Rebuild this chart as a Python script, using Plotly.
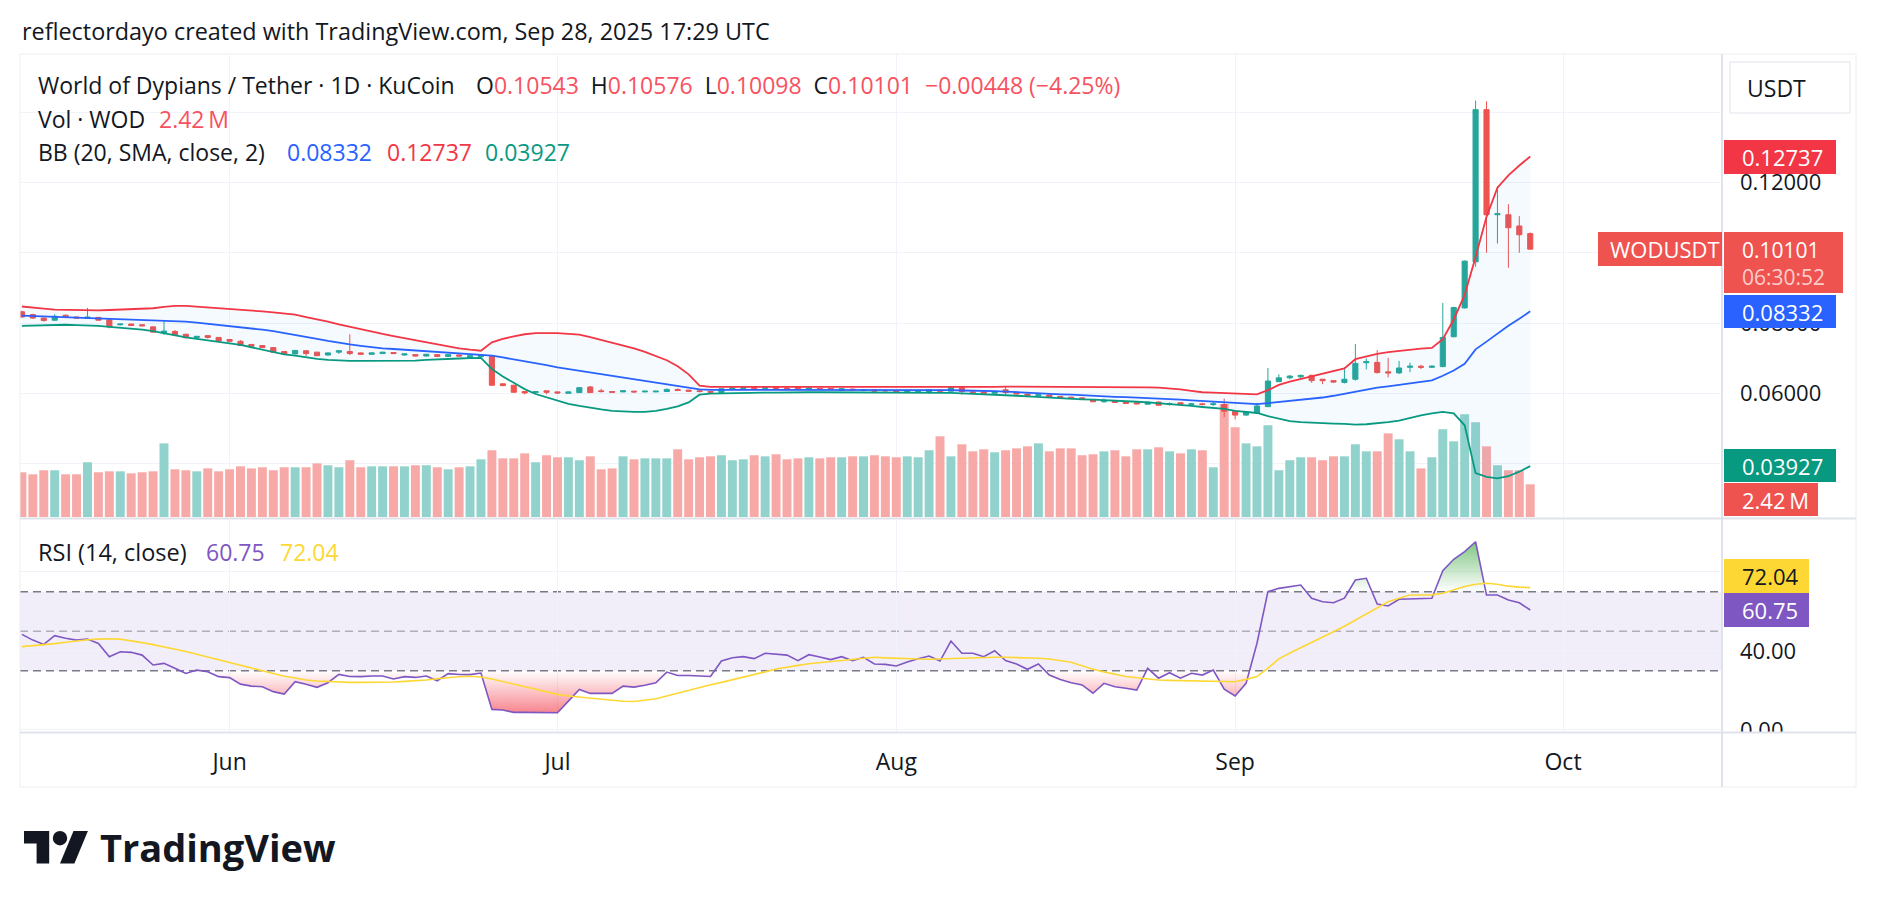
import plotly.graph_objects as go
import pandas as pd

# ---------------------------------------------------------------- data
start_date = "2025-05-13"          # first daily candle
month_ticks = ["2025-06-01", "2025-07-01", "2025-08-01", "2025-09-01", "2025-10-01"]
month_labels = ["Jun", "Jul", "Aug", "Sep", "Oct"]

opens = [
    0.0832, 0.0824, 0.0814, 0.0808, 0.0822, 0.0817, 0.0813, 0.0816, 0.0809, 0.0795,
    0.0797, 0.0795, 0.0789, 0.0772, 0.0776, 0.0768, 0.0759, 0.0764, 0.0759, 0.0753,
    0.0748, 0.0739, 0.0736, 0.0730, 0.0719, 0.0712, 0.0721, 0.0717, 0.0709, 0.0717,
    0.0719, 0.0715, 0.0711, 0.0713, 0.0716, 0.0709, 0.0710, 0.0706, 0.0710, 0.0705,
    0.0709, 0.0702, 0.0704, 0.0705, 0.0627, 0.0623, 0.0605, 0.0602, 0.0607, 0.0604,
    0.0600, 0.0602, 0.0618, 0.0607, 0.0605, 0.0604, 0.0606, 0.0604, 0.0604, 0.0605,
    0.0611, 0.0609, 0.0607, 0.0605, 0.0602, 0.0612, 0.0614, 0.0616, 0.0614, 0.0616,
    0.0615, 0.0617, 0.0612, 0.0614, 0.0614, 0.0609, 0.0612, 0.0608, 0.0610, 0.0608,
    0.0607, 0.0605, 0.0605, 0.0604, 0.0609, 0.0606, 0.0616, 0.0604, 0.0604, 0.0600,
    0.0610, 0.0603, 0.0598, 0.0593, 0.0595, 0.0591, 0.0589, 0.0587, 0.0581, 0.0576,
    0.0578, 0.0576, 0.0573, 0.0569, 0.0575, 0.0568, 0.0573, 0.0568, 0.0570, 0.0568,
    0.0568, 0.0549, 0.0538, 0.0544, 0.0562, 0.0633, 0.0644, 0.0647, 0.0651, 0.0640,
    0.0636, 0.0631, 0.0640, 0.0687, 0.0688, 0.0661, 0.0658, 0.0674, 0.0677, 0.0674,
    0.0676, 0.0761, 0.0843, 0.0974, 0.1407, 0.1108, 0.1108, 0.1076, 0.10543]

highs = [
    0.0835, 0.0826, 0.0815, 0.0825, 0.0825, 0.0818, 0.0843, 0.0817, 0.0810, 0.0798,
    0.0798, 0.0796, 0.0790, 0.0805, 0.0780, 0.0769, 0.0763, 0.0766, 0.0760, 0.0754,
    0.0751, 0.0740, 0.0737, 0.0731, 0.0720, 0.0723, 0.0722, 0.0718, 0.0716, 0.0722,
    0.0768, 0.0716, 0.0716, 0.0718, 0.0717, 0.0713, 0.0711, 0.0712, 0.0711, 0.0711,
    0.0710, 0.0708, 0.0710, 0.0706, 0.0628, 0.0624, 0.0606, 0.0606, 0.0608, 0.0605,
    0.0605, 0.0617, 0.0621, 0.0613, 0.0606, 0.0608, 0.0607, 0.0607, 0.0607, 0.0614,
    0.0614, 0.0610, 0.0608, 0.0606, 0.0614, 0.0618, 0.0617, 0.0617, 0.0619, 0.0617,
    0.0616, 0.0619, 0.0616, 0.0615, 0.0615, 0.0614, 0.0613, 0.0611, 0.0611, 0.0609,
    0.0608, 0.0608, 0.0608, 0.0612, 0.0610, 0.0619, 0.0618, 0.0605, 0.0605, 0.0605,
    0.0621, 0.0604, 0.0599, 0.0597, 0.0596, 0.0592, 0.0590, 0.0588, 0.0582, 0.0585,
    0.0579, 0.0577, 0.0574, 0.0576, 0.0577, 0.0574, 0.0574, 0.0571, 0.0573, 0.0575,
    0.0585, 0.0550, 0.0548, 0.0573, 0.0672, 0.0654, 0.0652, 0.0653, 0.0653, 0.0641,
    0.0637, 0.0674, 0.0740, 0.0699, 0.0723, 0.0701, 0.0692, 0.0687, 0.0681, 0.0679,
    0.0857, 0.0846, 0.0978, 0.1433, 0.1431, 0.1189, 0.1138, 0.1104, 0.10576]

lows = [
    0.0816, 0.0812, 0.0804, 0.0806, 0.0815, 0.0813, 0.0812, 0.0807, 0.0785, 0.0793,
    0.0792, 0.0791, 0.0772, 0.0766, 0.0765, 0.0757, 0.0758, 0.0756, 0.0748, 0.0745,
    0.0735, 0.0730, 0.0729, 0.0716, 0.0711, 0.0711, 0.0706, 0.0706, 0.0707, 0.0712,
    0.0709, 0.0710, 0.0710, 0.0712, 0.0712, 0.0707, 0.0705, 0.0705, 0.0703, 0.0703,
    0.0705, 0.0701, 0.0703, 0.0621, 0.0620, 0.0602, 0.0597, 0.0600, 0.0597, 0.0598,
    0.0599, 0.0601, 0.0601, 0.0602, 0.0601, 0.0603, 0.0601, 0.0603, 0.0603, 0.0604,
    0.0607, 0.0605, 0.0603, 0.0601, 0.0601, 0.0611, 0.0613, 0.0612, 0.0612, 0.0613,
    0.0612, 0.0611, 0.0611, 0.0611, 0.0610, 0.0608, 0.0609, 0.0606, 0.0604, 0.0605,
    0.0603, 0.0604, 0.0604, 0.0598, 0.0605, 0.0605, 0.0596, 0.0601, 0.0599, 0.0599,
    0.0596, 0.0597, 0.0589, 0.0592, 0.0588, 0.0586, 0.0584, 0.0584, 0.0575, 0.0573,
    0.0573, 0.0570, 0.0569, 0.0568, 0.0565, 0.0565, 0.0565, 0.0567, 0.0566, 0.0564,
    0.0532, 0.0526, 0.0536, 0.0542, 0.0561, 0.0632, 0.0640, 0.0638, 0.0630, 0.0626,
    0.0630, 0.0628, 0.0636, 0.0668, 0.0656, 0.0645, 0.0655, 0.0660, 0.0669, 0.0672,
    0.0674, 0.0759, 0.0841, 0.0960, 0.1000, 0.1026, 0.0957, 0.1000, 0.10098]

closes = [
    0.0817, 0.0814, 0.0807, 0.0819, 0.0816, 0.0814, 0.0817, 0.0808, 0.0789, 0.0797,
    0.0793, 0.0792, 0.0774, 0.0777, 0.0766, 0.0758, 0.0762, 0.0759, 0.0749, 0.0748,
    0.0736, 0.0734, 0.0730, 0.0717, 0.0712, 0.0722, 0.0713, 0.0707, 0.0715, 0.0721,
    0.0713, 0.0711, 0.0715, 0.0717, 0.0713, 0.0712, 0.0706, 0.0711, 0.0705, 0.0710,
    0.0706, 0.0707, 0.0709, 0.0623, 0.0622, 0.0603, 0.0601, 0.0605, 0.0603, 0.0601,
    0.0604, 0.0616, 0.0602, 0.0605, 0.0603, 0.0607, 0.0604, 0.0606, 0.0606, 0.0611,
    0.0608, 0.0606, 0.0605, 0.0603, 0.0613, 0.0615, 0.0616, 0.0613, 0.0616, 0.0614,
    0.0613, 0.0613, 0.0615, 0.0612, 0.0612, 0.0613, 0.0610, 0.0610, 0.0606, 0.0607,
    0.0605, 0.0607, 0.0607, 0.0610, 0.0606, 0.0617, 0.0605, 0.0602, 0.0600, 0.0604,
    0.0602, 0.0598, 0.0594, 0.0596, 0.0589, 0.0587, 0.0585, 0.0585, 0.0576, 0.0580,
    0.0574, 0.0571, 0.0570, 0.0575, 0.0566, 0.0570, 0.0569, 0.0570, 0.0568, 0.0570,
    0.0549, 0.0538, 0.0547, 0.0564, 0.0635, 0.0644, 0.0649, 0.0651, 0.0636, 0.0636,
    0.0632, 0.0640, 0.0685, 0.0690, 0.0659, 0.0658, 0.0672, 0.0677, 0.0674, 0.0677,
    0.0759, 0.0844, 0.0976, 0.1407, 0.1108, 0.1111, 0.1071, 0.1051, 0.10101]

volume_m = [
    3.31, 3.16, 3.46, 3.46, 3.16, 3.16, 4.05, 3.31, 3.38, 3.38,
    3.23, 3.31, 3.38, 5.45, 3.53, 3.46, 3.38, 3.60, 3.38, 3.53,
    3.75, 3.60, 3.68, 3.46, 3.68, 3.68, 3.68, 3.97, 3.83, 3.68,
    4.20, 3.68, 3.75, 3.75, 3.75, 3.75, 3.83, 3.83, 3.68, 3.53,
    3.68, 3.75, 4.27, 4.94, 4.34, 4.34, 4.71, 4.05, 4.57, 4.42,
    4.42, 4.20, 4.49, 3.53, 3.60, 4.49, 4.27, 4.34, 4.34, 4.34,
    5.01, 4.27, 4.42, 4.49, 4.57, 4.20, 4.27, 4.57, 4.49, 4.64,
    4.27, 4.34, 4.42, 4.34, 4.42, 4.42, 4.49, 4.49, 4.57, 4.49,
    4.42, 4.49, 4.42, 4.94, 5.97, 4.49, 5.38, 4.86, 5.01, 4.79,
    4.94, 5.08, 5.23, 5.45, 4.86, 5.08, 5.08, 4.57, 4.64, 4.86,
    4.94, 4.49, 5.01, 5.01, 5.16, 4.86, 4.71, 5.01, 4.94, 3.68,
    8.36, 6.64, 5.45, 5.23, 6.79, 3.46, 4.20, 4.42, 4.42, 4.20,
    4.49, 4.49, 5.38, 4.86, 4.86, 6.19, 5.75, 4.86, 3.60, 4.42,
    6.49, 5.60, 7.60, 7.01, 5.23, 3.83, 3.46, 3.46, 2.42]

bb_upper = [
    0.0847, 0.0845, 0.0841, 0.0838, 0.0837, 0.0837, 0.0837, 0.0836, 0.0837, 0.0838,
    0.0838, 0.0839, 0.0842, 0.0846, 0.0849, 0.0849, 0.0847, 0.0845, 0.0843, 0.0840,
    0.0838, 0.0836, 0.0833, 0.0830, 0.0827, 0.0824, 0.0817, 0.0811, 0.0804, 0.0796,
    0.0789, 0.0781, 0.0775, 0.0769, 0.0763, 0.0757, 0.0751, 0.0745, 0.0739, 0.0732,
    0.0728, 0.0724, 0.0721, 0.0745, 0.0755, 0.0762, 0.0768, 0.0771, 0.0772, 0.0771,
    0.0769, 0.0767, 0.0760, 0.0752, 0.0746, 0.0737, 0.0728, 0.0718, 0.0707, 0.0694,
    0.0677, 0.0654, 0.0622, 0.0618, 0.0618, 0.0618, 0.0618, 0.0618, 0.0618, 0.0618,
    0.0618, 0.0618, 0.0618, 0.0618, 0.0617, 0.0617, 0.0617, 0.0617, 0.0616, 0.0616,
    0.0616, 0.0616, 0.0616, 0.0616, 0.0617, 0.0618, 0.0618, 0.0618, 0.0618, 0.0618,
    0.0619, 0.0619, 0.0619, 0.0619, 0.0619, 0.0619, 0.0619, 0.0619, 0.0619, 0.0619,
    0.0618, 0.0618, 0.0617, 0.0617, 0.0616, 0.0614, 0.0611, 0.0607, 0.0603, 0.0602,
    0.0601, 0.0601, 0.0600, 0.0597, 0.0609, 0.0624, 0.0633, 0.0641, 0.0649, 0.0656,
    0.0663, 0.0671, 0.0697, 0.0705, 0.0712, 0.0717, 0.0721, 0.0724, 0.0727, 0.0729,
    0.0754, 0.0810, 0.0880, 0.0988, 0.1102, 0.1185, 0.1220, 0.1248, 0.12737]

bb_basis = [
    0.0821, 0.0820, 0.0819, 0.0818, 0.0817, 0.0815, 0.0814, 0.0813, 0.0812, 0.0811,
    0.0811, 0.0810, 0.0809, 0.0808, 0.0806, 0.0804, 0.0801, 0.0798, 0.0795, 0.0792,
    0.0789, 0.0785, 0.0781, 0.0777, 0.0772, 0.0767, 0.0761, 0.0755, 0.0749, 0.0743,
    0.0739, 0.0735, 0.0731, 0.0728, 0.0726, 0.0724, 0.0722, 0.0720, 0.0718, 0.0717,
    0.0715, 0.0713, 0.0711, 0.0707, 0.0702, 0.0697, 0.0691, 0.0685, 0.0680, 0.0674,
    0.0669, 0.0664, 0.0659, 0.0654, 0.0649, 0.0644, 0.0639, 0.0634, 0.0630, 0.0626,
    0.0621, 0.0616, 0.0611, 0.0610, 0.0610, 0.0610, 0.0610, 0.0610, 0.0610, 0.0610,
    0.0611, 0.0611, 0.0611, 0.0611, 0.0611, 0.0611, 0.0610, 0.0610, 0.0610, 0.0610,
    0.0610, 0.0609, 0.0609, 0.0609, 0.0609, 0.0609, 0.0608, 0.0608, 0.0607, 0.0606,
    0.0605, 0.0603, 0.0602, 0.0600, 0.0599, 0.0597, 0.0596, 0.0594, 0.0592, 0.0591,
    0.0590, 0.0589, 0.0588, 0.0587, 0.0585, 0.0584, 0.0582, 0.0580, 0.0578, 0.0577,
    0.0576, 0.0574, 0.0572, 0.0569, 0.0572, 0.0575, 0.0578, 0.0581, 0.0584, 0.0588,
    0.0593, 0.0599, 0.0606, 0.0611, 0.0616, 0.0620, 0.0624, 0.0628, 0.0632, 0.0637,
    0.0650, 0.0665, 0.0684, 0.0725, 0.0747, 0.0770, 0.0792, 0.0812, 0.08332]

bb_lower = [
    0.0792, 0.0793, 0.0794, 0.0794, 0.0795, 0.0794, 0.0794, 0.0792, 0.0789, 0.0787,
    0.0784, 0.0781, 0.0777, 0.0771, 0.0764, 0.0759, 0.0755, 0.0751, 0.0747, 0.0743,
    0.0738, 0.0731, 0.0724, 0.0717, 0.0711, 0.0707, 0.0702, 0.0698, 0.0695, 0.0693,
    0.0692, 0.0692, 0.0692, 0.0692, 0.0692, 0.0692, 0.0693, 0.0695, 0.0697, 0.0698,
    0.0699, 0.0700, 0.0701, 0.0669, 0.0648, 0.0630, 0.0612, 0.0598, 0.0588, 0.0578,
    0.0570, 0.0564, 0.0558, 0.0554, 0.0550, 0.0548, 0.0547, 0.0547, 0.0550, 0.0556,
    0.0563, 0.0574, 0.0596, 0.0599, 0.0600, 0.0601, 0.0602, 0.0602, 0.0602, 0.0602,
    0.0603, 0.0603, 0.0603, 0.0603, 0.0603, 0.0603, 0.0603, 0.0603, 0.0603, 0.0603,
    0.0603, 0.0603, 0.0603, 0.0602, 0.0602, 0.0601, 0.0600, 0.0599, 0.0598, 0.0597,
    0.0595, 0.0593, 0.0591, 0.0589, 0.0588, 0.0586, 0.0584, 0.0583, 0.0582, 0.0581,
    0.0580, 0.0578, 0.0576, 0.0574, 0.0572, 0.0570, 0.0567, 0.0564, 0.0561, 0.0559,
    0.0556, 0.0550, 0.0547, 0.0544, 0.0535, 0.0527, 0.0521, 0.0518, 0.0516, 0.0515,
    0.0514, 0.0513, 0.0511, 0.0512, 0.0514, 0.0518, 0.0522, 0.0530, 0.0537, 0.0543,
    0.0547, 0.0543, 0.0509, 0.0373, 0.0362, 0.0358, 0.0364, 0.0377, 0.03927]

rsi = [
    48.4, 45.5, 43.3, 47.7, 46.4, 45.5, 46.0, 43.8, 37.1, 39.6,
    39.3, 37.9, 32.9, 33.7, 31.2, 28.6, 30.3, 29.5, 27.0, 26.5,
    23.2, 22.2, 21.9, 19.4, 18.2, 24.4, 23.1, 21.6, 23.9, 28.1,
    27.1, 27.0, 27.3, 27.3, 25.8, 27.0, 26.6, 27.3, 24.9, 28.5,
    28.1, 28.0, 28.8, 10.4, 10.1, 8.9, 8.9, 8.8, 8.7, 8.7,
    14.6, 20.5, 18.5, 18.5, 18.5, 22.2, 21.7, 22.6, 23.9, 29.3,
    27.6, 27.6, 27.3, 27.1, 34.9, 36.6, 37.1, 36.1, 38.8, 38.4,
    37.9, 35.1, 38.1, 36.9, 35.6, 37.1, 35.1, 36.8, 33.4, 33.2,
    32.4, 34.4, 36.1, 37.4, 34.9, 45.0, 38.8, 38.8, 37.1, 40.1,
    35.1, 33.4, 30.7, 33.4, 27.8, 25.6, 23.9, 22.8, 18.6, 23.6,
    21.9, 21.1, 20.2, 31.2, 26.2, 29.0, 26.2, 28.7, 27.8, 30.3,
    20.6, 17.2, 23.6, 43.9, 70.0, 71.7, 72.5, 73.4, 66.7, 64.9,
    64.4, 66.7, 75.9, 76.8, 63.8, 62.8, 66.2, 66.3, 66.3, 66.7,
    80.6, 86.4, 90.3, 95.3, 68.3, 68.3, 65.8, 64.4, 60.75]

rsi_ma = [
    42.2, 42.6, 43.0, 43.7, 44.4, 45.1, 45.7, 46.0, 46.2, 46.0,
    45.2, 44.2, 43.2, 42.1, 40.9, 39.7, 38.3, 36.9, 35.6, 34.2,
    32.9, 31.5, 30.0, 28.4, 27.2, 26.3, 25.3, 24.8, 24.5, 24.2,
    24.1, 24.1, 24.1, 24.1, 24.3, 24.6, 24.8, 25.3, 25.9, 26.5,
    26.9, 27.2, 26.8, 25.8, 24.5, 23.2, 21.9, 20.5, 19.1, 18.0,
    17.2, 16.7, 16.2, 15.6, 15.0, 14.5, 14.4, 15.0, 15.8, 17.2,
    18.7, 20.0, 21.4, 22.9, 24.1, 25.4, 26.6, 28.0, 29.4, 30.9,
    31.9, 32.7, 33.5, 34.1, 34.7, 35.3, 35.8, 36.4, 36.8, 36.5,
    36.2, 36.0, 35.9, 35.8, 36.0, 36.3, 36.5, 36.6, 36.7, 36.8,
    36.8, 36.7, 36.5, 36.3, 35.9, 35.2, 34.3, 32.5, 30.7, 29.4,
    28.2, 27.1, 26.4, 25.8, 25.3, 25.1, 25.0, 24.9, 24.9, 24.8,
    24.6, 24.4, 25.6, 27.0, 31.3, 36.0, 39.0, 41.6, 44.4, 47.1,
    49.7, 52.5, 55.7, 58.8, 61.9, 64.9, 66.7, 68.3, 68.3, 68.4,
    69.2, 70.8, 72.6, 73.8, 74.3, 73.8, 72.8, 72.3, 72.04]

price_ticks = [0.04, 0.06, 0.08, 0.10, 0.12, 0.14]
price_tick_text = ["", "0.06000", "0.08000", "", "0.12000", ""]
rsi_ticks = [0, 40, 80]
rsi_tick_text = ["0.00", "40.00", ""]
rsi_levels = [70, 50, 30]

n = len(closes)
for arr in (opens, highs, lows, volume_m, bb_upper, bb_basis, bb_lower, rsi, rsi_ma):
    assert len(arr) == n, len(arr)

# ---------------------------------------------------------------- geometry
W, H = 1878, 908
FONT = "Open Sans"
TXT = "#131722"
X_L, X_R = 20, 1721
MAIN_T, MAIN_B = 54, 517
RSI_T, RSI_B = 520, 732
BAR_PX = 10.93          # pixels per day
BAR0_PX = 21.9          # pixel centre of first candle

base = pd.Timestamp(start_date)
dates = pd.date_range(start_date, periods=n, freq="D")


def kdate(k):
    return base + pd.Timedelta(days=k)


x_range = [str(kdate((X_L - BAR0_PX) / BAR_PX)), str(kdate((X_R - BAR0_PX) / BAR_PX))]
p_per_px = 1 / 3515.0
p_top = 0.06 + (393.3 - MAIN_T) * p_per_px
p_bot = 0.06 - (MAIN_B - 393.3) * p_per_px
rsi_top = (729.95 - RSI_T) / 1.975
rsi_bot = (729.95 - RSI_B) / 1.975
vol_top = (MAIN_B - MAIN_T) * 2.42 / 32.7


def py(v):
    return 1 - v / H


def pxx(v):
    return v / W


fig = go.Figure()

# volume (base axis, drawn beneath price)
vol_colors = ["#92d2cc" if c >= o else "#f7a9a7" for o, c in zip(opens, closes)]
fig.add_trace(go.Bar(x=dates, y=volume_m, marker=dict(color=vol_colors, line=dict(width=0)),
                     width=0.82 * 86400000, xaxis="x", yaxis="y", hoverinfo="skip"))

# Bollinger bands
fig.add_trace(go.Scatter(x=dates, y=bb_upper, mode="lines", line=dict(color="#F23645", width=1.8),
                         xaxis="x", yaxis="y3", hoverinfo="skip"))
fig.add_trace(go.Scatter(x=dates, y=bb_lower, mode="lines", line=dict(color="#089981", width=1.8),
                         fill="tonexty", fillcolor="rgba(33,150,243,0.05)",
                         xaxis="x", yaxis="y3", hoverinfo="skip"))
fig.add_trace(go.Scatter(x=dates, y=bb_basis, mode="lines", line=dict(color="#2962FF", width=1.8),
                         xaxis="x", yaxis="y3", hoverinfo="skip"))

# candles
fig.add_trace(go.Candlestick(
    x=dates, open=opens, high=highs, low=lows, close=closes,
    increasing=dict(line=dict(color="#26a69a", width=1), fillcolor="#26a69a"),
    decreasing=dict(line=dict(color="#ef5350", width=1), fillcolor="#ef5350"),
    whiskerwidth=0, xaxis="x", yaxis="y3", hoverinfo="skip"))


# RSI gradient fills (outside the 30/70 band)
def clipped(vals, level, below):
    xs, ys = [], []
    for i, v in enumerate(vals):
        xs.append(float(i))
        ys.append(v)
        if i < len(vals) - 1:
            a, b = v - level, vals[i + 1] - level
            if a * b < 0:
                xs.append(i + a / (a - b))
                ys.append(level)
    ys = [min(y, level) if below else max(y, level) for y in ys]
    return [kdate(x) for x in xs], ys


for level, below, cs, g0, g1 in [
        (30, True, [[0, "rgba(242,54,69,0.85)"], [1, "rgba(242,54,69,0)"]], 0, 30),
        (70, False, [[0, "rgba(76,175,80,0)"], [1, "rgba(76,175,80,0.85)"]], 70, 100)]:
    xd, yc = clipped(rsi, level, below)
    fig.add_trace(go.Scatter(x=xd, y=[level] * len(xd), mode="lines",
                             line=dict(width=0, color="rgba(0,0,0,0)"),
                             xaxis="x2", yaxis="y2", hoverinfo="skip"))
    fig.add_trace(go.Scatter(x=xd, y=yc, mode="lines", line=dict(width=0, color="rgba(0,0,0,0)"),
                             fill="tonexty",
                             fillgradient=dict(type="vertical", colorscale=cs, start=g0, stop=g1),
                             xaxis="x2", yaxis="y2", hoverinfo="skip"))

fig.add_trace(go.Scatter(x=dates, y=rsi, mode="lines", line=dict(color="#7E57C2", width=1.6),
                         xaxis="x2", yaxis="y2", hoverinfo="skip"))
fig.add_trace(go.Scatter(x=dates, y=rsi_ma, mode="lines", line=dict(color="#FDD835", width=1.6),
                         xaxis="x2", yaxis="y2", hoverinfo="skip"))

GRID = "#f0f3fa"
fig.update_layout(
    width=W, height=H, autosize=False, margin=dict(l=0, r=0, t=0, b=0, pad=0, autoexpand=False),
    paper_bgcolor="white", plot_bgcolor="white", showlegend=False, hovermode=False,
    boxgap=0.33,
    xaxis=dict(domain=[pxx(X_L), pxx(X_R)], range=x_range, type="date", anchor="y",
               tickvals=month_ticks, showticklabels=False, showgrid=True, gridcolor=GRID,
               zeroline=False, showline=False, ticks="", rangeslider=dict(visible=False),
               fixedrange=True),
    xaxis2=dict(domain=[pxx(X_L), pxx(X_R)], matches="x", type="date", anchor="y2",
                tickvals=month_ticks, ticktext=month_labels, showgrid=True, gridcolor=GRID,
                zeroline=False, showline=False, ticks="", ticklabelstandoff=14,
                tickfont=dict(family=FONT, size=23, color=TXT), fixedrange=True),
    yaxis=dict(domain=[py(MAIN_B), py(MAIN_T)], range=[0, vol_top], visible=False,
               fixedrange=True),
    yaxis3=dict(overlaying="y", anchor="x", side="right", range=[p_bot, p_top],
                tickvals=price_ticks, ticktext=price_tick_text, showgrid=True, gridcolor=GRID,
                zeroline=False, showline=False, ticks="", ticklabelstandoff=18,
                tickfont=dict(family=FONT, size=22, color=TXT), fixedrange=True),
    yaxis2=dict(domain=[py(RSI_B), py(RSI_T)], anchor="x2", side="right",
                range=[rsi_bot, rsi_top], tickvals=rsi_ticks, ticktext=rsi_tick_text,
                showgrid=True, gridcolor=GRID, zeroline=False, showline=False, ticks="",
                ticklabelstandoff=18, tickfont=dict(family=FONT, size=22, color=TXT),
                fixedrange=True),
)

shapes = []
# RSI band and level lines
shapes.append(dict(type="rect", xref="x2 domain", yref="y2", x0=0, x1=1, y0=30, y1=70,
                   fillcolor="rgba(126,87,194,0.1)", line=dict(width=0), layer="below"))
for lv in rsi_levels:
    shapes.append(dict(type="line", xref="x2 domain", yref="y2", x0=0, x1=1, y0=lv, y1=lv,
                       line=dict(color="#787B86" if lv != 50 else "rgba(120,123,134,0.55)",
                                 width=1.6, dash="8px,5px"), layer="below"))


def rect(x0, y0, x1, y1, fill, line=None):
    shapes.append(dict(type="rect", xref="paper", yref="paper", x0=pxx(x0), x1=pxx(x1),
                       y0=py(y1), y1=py(y0), fillcolor=fill,
                       line=line if line else dict(width=0), layer="above"))


def seg(x0, y0, x1, y1, color, width):
    shapes.append(dict(type="line", xref="paper", yref="paper", x0=pxx(x0), x1=pxx(x1),
                       y0=py(y0), y1=py(y1), line=dict(color=color, width=width), layer="above"))


# hide the lower part of the cut "0.00" label under the time scale
rect(1723, 733, 1855, 786, "white")
# frame and pane separators
rect(20, 54, 1856, 787, "rgba(0,0,0,0)", dict(color="#eceef2", width=1))
seg(20, 518.5, 1856, 518.5, "#e0e3eb", 2)
seg(20, 732.5, 1856, 732.5, "#e0e3eb", 2)
seg(1722, 54, 1722, 787, "#e0e3eb", 2)

# USDT button
shapes.append(dict(type="rect", xref="paper", yref="paper", x0=pxx(1730), x1=pxx(1850),
                   y0=py(113), y1=py(62), fillcolor="white",
                   line=dict(color="#e0e3eb", width=1), layer="above"))
# value labels on price / rsi scales
rect(1724, 140, 1836, 174, "#F23645")
rect(1598, 232, 1722, 266, "#EF5350")
rect(1724, 232, 1843, 293, "#EF5350")
rect(1724, 295, 1836, 328, "#2962FF")
rect(1724, 449, 1836, 482, "#089981")
rect(1724, 483, 1818, 516, "#EF5350")
rect(1724, 559, 1809, 593, "#FDD835")
rect(1724, 593, 1809, 627, "#7E57C2")

# TradingView logo mark
S, LX, LY = 1.8, 24, 831


def logo_path(pts):
    out = []
    for i, (a, b) in enumerate(pts):
        X = pxx(LX + S * a)
        Y = py(LY + S * (b - 4))
        out.append(("M" if i == 0 else "L") + f"{X:.6f},{Y:.6f}")
    return " ".join(out) + " Z"


shapes.append(dict(type="path", xref="paper", yref="paper",
                   path=logo_path([(14, 22), (7, 22), (7, 11), (0, 11), (0, 4), (14, 4)]),
                   fillcolor=TXT, line=dict(width=0), layer="above"))
shapes.append(dict(type="path", xref="paper", yref="paper",
                   path=logo_path([(28, 22), (20, 22), (27.5, 4), (35.5, 4)]),
                   fillcolor=TXT, line=dict(width=0), layer="above"))
shapes.append(dict(type="circle", xref="paper", yref="paper",
                   x0=pxx(LX + S * 16), x1=pxx(LX + S * 24),
                   y0=py(LY + S * 8), y1=py(LY + S * 0), fillcolor=TXT, line=dict(width=0),
                   layer="above"))

ann = []


def text(x, y, s, color=TXT, size=23, anchor="left", family=FONT):
    ann.append(dict(x=pxx(x), y=py(y), xref="paper", yref="paper", text=s, showarrow=False,
                    xanchor=anchor, yanchor="middle", align="left",
                    font=dict(family=family, size=size, color=color)))


RED = "#F7525F"
text(20, 31, "reflectordayo created with TradingView.com, Sep 28, 2025 17:29 UTC", size=23.4)
text(36, 85, "World of Dypians / Tether · 1D · KuCoin")
text(474, 85, f"O<span style='color:{RED}'>0.10543</span>\u00a0\u00a0"
              f"H<span style='color:{RED}'>0.10576</span>\u00a0\u00a0"
              f"L<span style='color:{RED}'>0.10098</span>\u00a0\u00a0"
              f"C<span style='color:{RED}'>0.10101</span>\u00a0\u00a0"
              f"<span style='color:{RED}'>−0.00448 (−4.25%)</span>")
text(36, 119.5, "Vol · WOD")
text(157, 119.5, "2.42\u2009M", RED)
text(36, 152.5, "BB (20, SMA, close, 2)")
text(285, 152.5, "0.08332", "#2962FF")
text(385, 152.5, "0.12737", "#F23645")
text(483, 152.5, "0.03927", "#089981")
text(36, 551.7, "RSI (14, close)", size=23.5)
text(204, 551.7, "60.75", "#7E57C2")
text(278, 551.7, "72.04", "#FDD835")

text(1776, 88, "USDT", anchor="center")
text(1740, 157, "0.12737", "white", size=22)
text(1608, 249, "WODUSDT", "white", size=22)
text(1740, 263.5, "0.10101<br><span style='color:rgba(255,255,255,0.72)'>06:30:52</span>",
     "white", size=21)
text(1740, 311.5, "0.08332", "white", size=22)
text(1740, 465.5, "0.03927", "white", size=22)
text(1740, 500, "2.42\u2009M", "white", size=22)
text(1740, 576, "72.04", TXT, size=22)
text(1740, 610, "60.75", "white", size=22)

text(98, 847, "<b>TradingView</b>", size=38)

fig.update_layout(shapes=shapes, annotations=ann)
fig.write_html("out.html")
